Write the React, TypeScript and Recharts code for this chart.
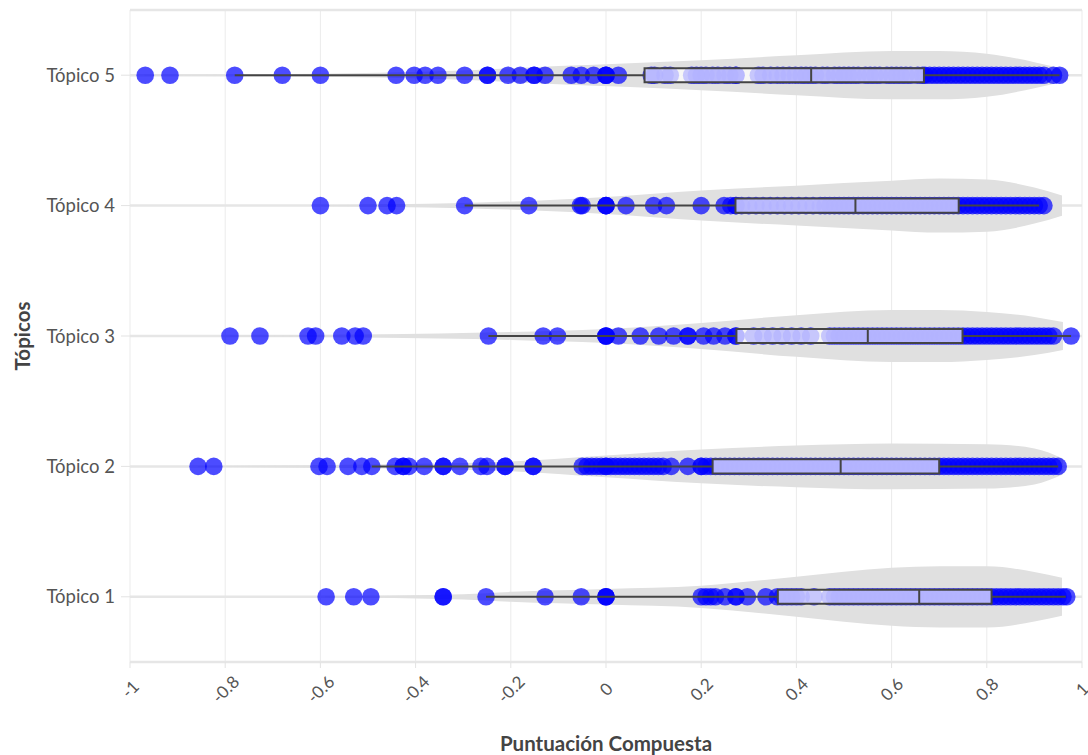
import {
  ComposedChart, Area, Scatter, XAxis, YAxis, CartesianGrid,
  ReferenceArea, ReferenceLine, Label,
} from 'recharts'

const topics = ['Tópico 1', 'Tópico 2', 'Tópico 3', 'Tópico 4', 'Tópico 5']
const topicTicks = [1, 2, 3, 4, 5]
const xTicks = [-1, -0.8, -0.6, -0.4, -0.2, 0, 0.2, 0.4, 0.6, 0.8, 1]

// compound score of every text, per topic
const scores1 = [
  -0.588, -0.53, -0.494, -0.342, -0.342, -0.252, -0.128, -0.052, 0, 0, 0,
  0.2, 0.21, 0.22, 0.23, 0.25, 0.273, 0.273, 0.297, 0.336, 0.36, 0.37, 0.38,
  0.39, 0.4, 0.41, 0.437, 0.47, 0.48, 0.49, 0.5, 0.51, 0.52, 0.53, 0.54, 0.55,
  0.56, 0.57, 0.58, 0.59, 0.6, 0.61, 0.62, 0.63, 0.64, 0.65, 0.66, 0.67, 0.68,
  0.69, 0.7, 0.71, 0.72, 0.73, 0.74, 0.75, 0.76, 0.77, 0.78, 0.79, 0.8, 0.81,
  0.82, 0.83, 0.84, 0.85, 0.86, 0.87, 0.88, 0.89, 0.9, 0.91, 0.92, 0.93, 0.94,
  0.95, 0.96, 0.968,
]
const scores2 = [
  -0.857, -0.824, -0.603, -0.586, -0.542, -0.513, -0.492, -0.443, -0.426, -0.426,
  -0.414, -0.382, -0.342, -0.342, -0.307, -0.263, -0.25, -0.212, -0.212, -0.153,
  -0.153, -0.05, -0.04, -0.03, -0.02, -0.01, 0, 0, 0.01, 0.02, 0.03, 0.04, 0.05,
  0.06, 0.07, 0.08, 0.09, 0.1, 0.11, 0.12, 0.137, 0.172, 0.2, 0.2, 0.21, 0.22,
  0.23, 0.24, 0.25, 0.26, 0.27, 0.28, 0.29, 0.3, 0.31, 0.32, 0.33, 0.34, 0.35,
  0.36, 0.37, 0.38, 0.39, 0.4, 0.41, 0.42, 0.43, 0.44, 0.45, 0.46, 0.47, 0.48,
  0.49, 0.5, 0.51, 0.52, 0.53, 0.54, 0.55, 0.56, 0.57, 0.58, 0.59, 0.6, 0.61,
  0.62, 0.63, 0.64, 0.65, 0.66, 0.67, 0.68, 0.69, 0.7, 0.71, 0.72, 0.73, 0.74,
  0.75, 0.76, 0.77, 0.78, 0.79, 0.8, 0.81, 0.82, 0.83, 0.84, 0.85, 0.86, 0.87,
  0.88, 0.89, 0.9, 0.91, 0.92, 0.93, 0.94, 0.95,
]
const scores3 = [
  -0.79, -0.727, -0.626, -0.61, -0.555, -0.527, -0.51, -0.247, -0.132, -0.102,
  0, 0, 0, 0.026, 0.072, 0.111, 0.142, 0.172, 0.172, 0.205, 0.226, 0.25, 0.273,
  0.273, 0.31, 0.33, 0.35, 0.37, 0.39, 0.41, 0.43, 0.47, 0.48, 0.49, 0.5, 0.51,
  0.52, 0.53, 0.54, 0.55, 0.56, 0.57, 0.58, 0.59, 0.6, 0.61, 0.62, 0.63, 0.64,
  0.65, 0.66, 0.67, 0.68, 0.69, 0.7, 0.71, 0.72, 0.73, 0.74, 0.75, 0.76, 0.77,
  0.78, 0.79, 0.8, 0.81, 0.82, 0.83, 0.84, 0.85, 0.86, 0.87, 0.88, 0.89, 0.9,
  0.91, 0.92, 0.93, 0.94, 0.977,
]
const scores4 = [
  -0.6, -0.5, -0.46, -0.44, -0.297, -0.162, -0.054, -0.05, 0, 0, 0, 0.042, 0.1,
  0.127, 0.2, 0.248, 0.262, 0.273, 0.273, 0.285, 0.3, 0.315, 0.33, 0.345, 0.36,
  0.375, 0.39, 0.405, 0.42, 0.435, 0.45, 0.46, 0.47, 0.48, 0.49, 0.5, 0.51,
  0.52, 0.53, 0.54, 0.55, 0.56, 0.57, 0.58, 0.59, 0.6, 0.61, 0.62, 0.63, 0.64,
  0.65, 0.66, 0.67, 0.68, 0.69, 0.7, 0.71, 0.72, 0.73, 0.74, 0.75, 0.76, 0.77,
  0.78, 0.79, 0.8, 0.81, 0.82, 0.83, 0.84, 0.85, 0.86, 0.87, 0.88, 0.89, 0.9,
  0.91, 0.92,
]
const scores5 = [
  -0.968, -0.916, -0.78, -0.68, -0.6, -0.441, -0.403, -0.38, -0.353, -0.297,
  -0.249, -0.249, -0.206, -0.18, -0.151, -0.151, -0.128, -0.073, -0.052, -0.026,
  0, 0, 0, 0.026, 0.095, 0.102, 0.124, 0.135, 0.18, 0.19, 0.2, 0.21, 0.224,
  0.235, 0.25, 0.26, 0.273, 0.273, 0.32, 0.33, 0.346, 0.36, 0.372, 0.385, 0.398,
  0.41, 0.42, 0.43, 0.44, 0.455, 0.465, 0.48, 0.49, 0.5, 0.51, 0.52, 0.53,
  0.545, 0.555, 0.565, 0.575, 0.59, 0.6, 0.61, 0.62, 0.63, 0.64, 0.655, 0.665,
  0.67, 0.68, 0.69, 0.7, 0.71, 0.72, 0.73, 0.74, 0.75, 0.76, 0.77, 0.78, 0.79,
  0.8, 0.81, 0.82, 0.83, 0.84, 0.85, 0.86, 0.87, 0.88, 0.89, 0.9, 0.91, 0.92,
  0.94, 0.953,
]

// box stats: lower whisker, q1, median, q3, upper whisker
const box1 = [-0.252, 0.361, 0.658, 0.81, 0.966]
const box2 = [-0.492, 0.224, 0.493, 0.7, 0.95]
const box3 = [-0.247, 0.274, 0.55, 0.749, 0.977]
const box4 = [-0.297, 0.272, 0.524, 0.741, 0.91]
const box5 = [-0.78, 0.081, 0.431, 0.668, 0.953]

// violin outline: score positions and half-width (in topic units)
const violin1X = [-0.59, -0.3, -0.2, 0, 0.2, 0.4, 0.6, 0.7, 0.8, 0.9, 0.958]
const violin1W = [0.005, 0.02, 0.038, 0.06, 0.085, 0.153, 0.222, 0.235, 0.235, 0.19, 0.146]
const violin2X = [-0.857, -0.5, -0.2, 0, 0.2, 0.4, 0.6, 0.8, 0.9, 0.96]
const violin2W = [0.005, 0.015, 0.038, 0.084, 0.13, 0.16, 0.176, 0.17, 0.138, 0.06]
const violin3X = [-0.79, -0.5, -0.2, 0, 0.2, 0.4, 0.6, 0.7, 0.8, 0.9, 0.96]
const violin3W = [0.005, 0.012, 0.03, 0.054, 0.1, 0.16, 0.2, 0.2, 0.184, 0.146, 0.107]
const violin4X = [-0.6, -0.3, -0.15, 0, 0.2, 0.4, 0.6, 0.7, 0.8, 0.9, 0.958]
const violin4W = [0.005, 0.02, 0.038, 0.065, 0.115, 0.153, 0.19, 0.207, 0.2, 0.138, 0.077]
const violin5X = [-0.97, -0.6, -0.35, -0.1, 0.2, 0.4, 0.6, 0.7, 0.8, 0.9, 0.97]
const violin5W = [0.005, 0.012, 0.03, 0.07, 0.115, 0.153, 0.185, 0.185, 0.165, 0.1, 0.04]

const scoreSets = [scores1, scores2, scores3, scores4, scores5]
const boxes = [box1, box2, box3, box4, box5]
const violins = [
  [violin1X, violin1W], [violin2X, violin2W], [violin3X, violin3W],
  [violin4X, violin4W], [violin5X, violin5W],
]

const BOX_HALF = 0.054
const FONT = 'Lato, "Noto Sans", sans-serif'

function fmt(v: number) {
  return String(Math.round(v * 10) / 10)
}

// rotated x tick, centred on the tick like plotly's -45° labels
function XTick({ x, y, payload }: any) {
  const ty = y + 19
  return (
    <text
      x={x} y={ty}
      transform={`rotate(-45, ${x}, ${ty})`}
      textAnchor="middle" dominantBaseline="central"
      fontSize={17} fill="#555"
    >
      {fmt(payload.value)}
    </text>
  )
}

const dot = (p: any) => (
  <circle cx={p.cx} cy={p.cy} r={8.8} fill="#0000ff" fillOpacity={0.7} />
)

export default function App() {
  return (
    <div style={{ position: 'absolute', left: 0, top: 0, fontFamily: FONT, background: '#fff' }}>
      <ComposedChart width={1088} height={755} margin={{ top: 10, right: 6, bottom: 0, left: 0 }}>
        <CartesianGrid horizontal={false} stroke="#ebebeb" strokeWidth={1} />
        <CartesianGrid vertical={false} stroke="#e6e6e6" strokeWidth={2.5} />
        <XAxis
          type="number" dataKey="x" domain={[-1, 1]} ticks={xTicks} interval={0}
          allowDataOverflow height={93}
          tick={<XTick />} tickLine={{ stroke: '#e3e3e3' }} tickSize={6}
          axisLine={{ stroke: '#e6e6e6' }}
        >
          <Label
            content={({ viewBox }: any) => (
              <text
                x={viewBox.x + viewBox.width / 2} y={viewBox.y + 89}
                textAnchor="middle" fontSize={20.5} fontWeight="bold" fill="#444"
              >
                Puntuación Compuesta
              </text>
            )}
          />
        </XAxis>
        <YAxis
          type="number" dataKey="y" domain={[0.5, 5.5]} ticks={topicTicks} interval={0}
          width={130} axisLine={false} tickLine={{ stroke: '#e3e3e3' }} tickSize={9}
          tickMargin={6} tick={{ fontSize: 18.5, fill: '#555' }}
          tickFormatter={(v: number) => topics[v - 1]}
        >
          <Label
            content={({ viewBox }: any) => {
              const cx = 22
              const cy = viewBox.y + viewBox.height / 2
              return (
                <text
                  x={cx} y={cy} transform={`rotate(-90, ${cx}, ${cy})`}
                  textAnchor="middle" dominantBaseline="central"
                  fontSize={20.5} fontWeight="bold" fill="#444"
                >
                  Tópicos
                </text>
              )
            }}
          />
        </YAxis>

        {violins.map(([xs, ws], i) => (
          <Area
            key={`v${i}`}
            data={xs.map((x, j) => ({ x, v: [i + 1 - ws[j], i + 1 + ws[j]] }))}
            dataKey="v" type="monotone" stroke="none" fill="#e0e0e0" fillOpacity={1}
            isAnimationActive={false} activeDot={false}
          />
        ))}

        {scoreSets.map((s, i) => (
          <Scatter
            key={`s${i}`}
            data={s.map(x => ({ x, y: i + 1 }))}
            shape={dot} isAnimationActive={false}
          />
        ))}

        {boxes.map(([lo, q1, , q3, hi], i) => [
          <ReferenceLine
            key={`wl${i}`} segment={[{ x: lo, y: i + 1 }, { x: q1, y: i + 1 }]}
            stroke="#444" strokeWidth={2} zIndex={700}
          />,
          <ReferenceLine
            key={`wh${i}`} segment={[{ x: q3, y: i + 1 }, { x: hi, y: i + 1 }]}
            stroke="#444" strokeWidth={2} zIndex={700}
          />,
        ])}
        {boxes.map(([, q1, , q3], i) => (
          <ReferenceArea
            key={`b${i}`} x1={q1} x2={q3} y1={i + 1 - BOX_HALF} y2={i + 1 + BOX_HALF}
            fill="#fff" fillOpacity={0.7} stroke="#444" strokeWidth={2} strokeOpacity={1}
            zIndex={710}
          />
        ))}
        {boxes.map(([, , med], i) => (
          <ReferenceLine
            key={`m${i}`} segment={[{ x: med, y: i + 1 - BOX_HALF }, { x: med, y: i + 1 + BOX_HALF }]}
            stroke="#444" strokeWidth={2} zIndex={720}
          />
        ))}
      </ComposedChart>
    </div>
  )
}
